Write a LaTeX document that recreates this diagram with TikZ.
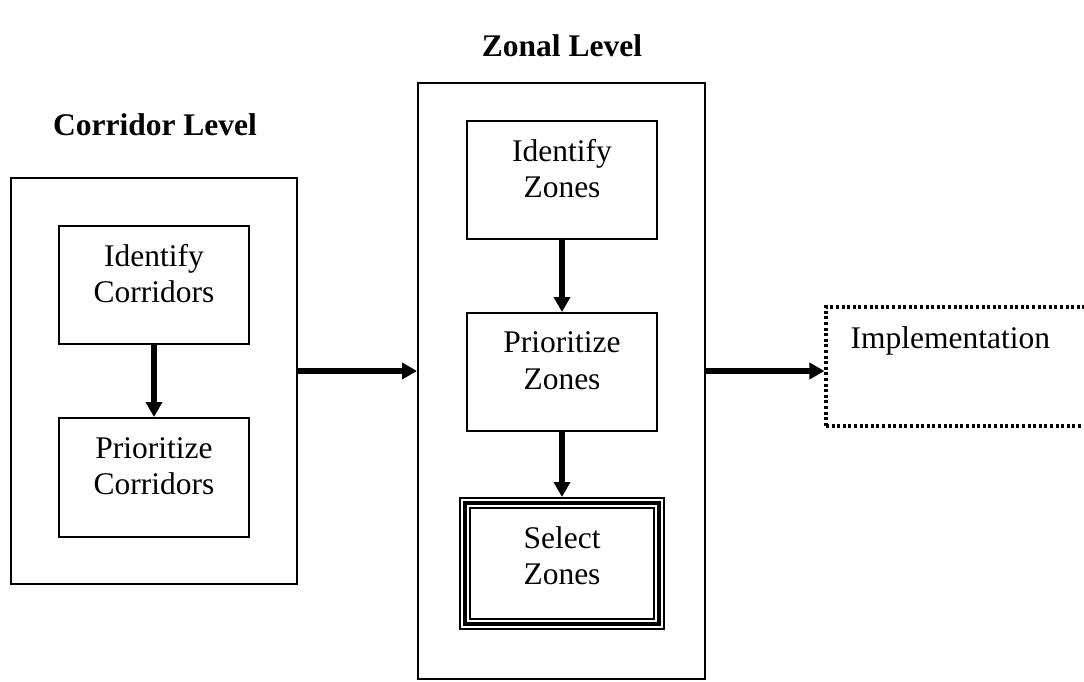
\documentclass[tikz,border=0pt]{standalone}
\usepackage{fontspec}
\setmainfont{Liberation Serif}
\usepackage{tikz}
\usetikzlibrary{arrows.meta,positioning}
\newcommand{\bigfont}{\fontsize{31.5}{36.5}\selectfont}
\tikzstyle{arrow} = [line width=6pt,-{Triangle[length=15pt,width=16pt]}]
\tikzstyle{title} = [font=\bigfont\bfseries]
\tikzstyle{frame} = [draw,line width=2pt,inner sep=0pt]
\tikzstyle{stepbox} = [draw,line width=2pt,minimum width=190pt,minimum height=118pt,
  align=center,text depth=23pt,inner sep=0pt]
\tikzstyle{selectbox} = [preaction={draw=black,line width=12pt},draw=white,line width=8pt,
  postaction={draw=black,line width=4pt},minimum width=194pt,minimum height=121pt,
  outer sep=6pt,align=center,text depth=16pt,inner sep=0pt]
\tikzstyle{dotbox} = [draw,line width=3.2pt,dash pattern=on 3pt off 2.6pt]

\begin{document}
\begin{tikzpicture}[x=1pt,y=-1pt,font=\bigfont]
\useasboundingbox (0,0) rectangle (1084,681);
\clip (0,0) rectangle (1084,681);

% Corridor level
\node[title] (corrtitle) at (155,125) {Corridor Level};
\node[frame,minimum width=286pt,minimum height=406pt] (corrframe) at (154,381) {};
\node[stepbox] (idcorr) at (154,285) {Identify\\Corridors};
\node[stepbox,minimum height=119pt] (prcorr) at (154,477.5) {Prioritize\\Corridors};
\draw[arrow] (idcorr) -- (prcorr);

% Zonal level
\node[title] (zontitle) at (562,46) {Zonal Level};
\node[frame,minimum width=287pt,minimum height=596pt] (zonframe) at (561.5,381) {};
\node[stepbox] (idzone) at (562,180) {Identify\\Zones};
\node[stepbox] (przone) at (562,372) {Prioritize\\Zones};
\node[selectbox] (selzone) at (562,563.5) {Select\\Zones};
\draw[arrow] (idzone) -- (przone);
\draw[arrow] (przone) -- (selzone);

% Implementation
\node[dotbox,minimum width=269pt,minimum height=119pt] (implbox) at (960.5,366.5) {};
\node[anchor=base west] (impltext) at (847,348) {Implementation};

% Level to level
\coordinate (midrow) at (0,371);
\draw[arrow] (corrframe.east |- midrow) -- (zonframe.west |- midrow);
\draw[arrow] (zonframe.east |- midrow) -- (implbox.west |- midrow);
\end{tikzpicture}
\end{document}
